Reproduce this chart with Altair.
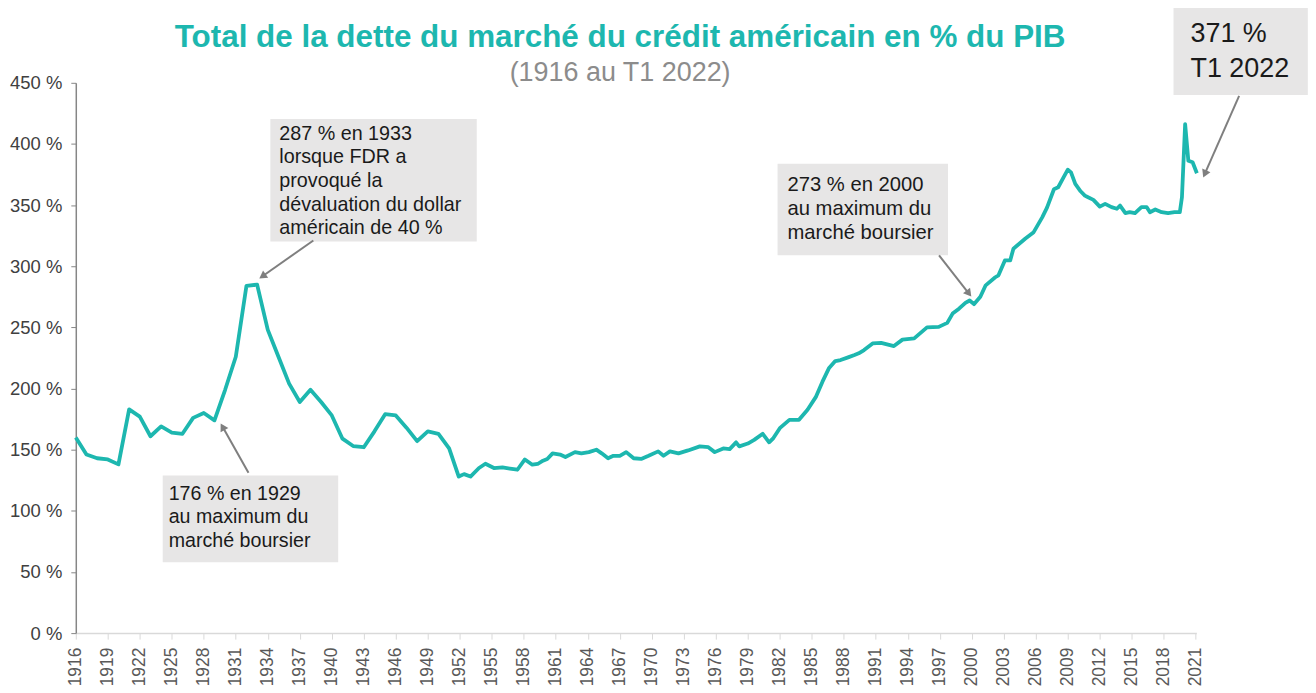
import math
import altair as alt
import pandas as pd

# ---------------- data ----------------
years = [
    1916.0, 1917.0, 1918.0, 1919.0, 1920.0, 1921.0, 1922.0, 1923.0, 1924.0, 1925.0,
    1926.0, 1927.0, 1928.0, 1929.0, 1930.0, 1931.0, 1932.0, 1933.0, 1934.0, 1935.0,
    1936.0, 1937.0, 1938.0, 1939.0, 1940.0, 1941.0, 1942.0, 1943.0, 1944.0, 1945.0,
    1946.0, 1947.0, 1948.0, 1949.0, 1950.0, 1951.0, 1951.9, 1952.4, 1953.0, 1953.8,
    1954.4, 1955.2, 1956.0, 1956.7, 1957.4, 1958.1, 1958.8, 1959.3, 1959.8, 1960.2,
    1960.7, 1961.4, 1961.9, 1962.8, 1963.4, 1964.1, 1964.8, 1965.3, 1965.9, 1966.4,
    1967.0, 1967.6, 1968.3, 1969.0, 1969.7, 1970.6, 1971.1, 1971.7, 1972.5, 1973.4,
    1974.5, 1975.3, 1975.9, 1976.7, 1977.3, 1977.9, 1978.2, 1979.0, 1979.6, 1980.4,
    1981.0, 1981.4, 1982.0, 1982.9, 1983.8, 1984.6, 1985.4, 1986.0, 1986.6, 1987.2,
    1987.7, 1988.4, 1989.0, 1989.4, 1989.9, 1990.7, 1991.5, 1992.7, 1993.5, 1994.6,
    1995.8, 1996.9, 1997.7, 1998.2, 1998.8, 1999.4, 1999.8, 2000.2, 2000.8, 2001.3,
    2002.2, 2002.5, 2003.1, 2003.6, 2003.9, 2005.0, 2005.8, 2006.6, 2007.05, 2007.7,
    2008.1, 2008.6, 2009.0, 2009.3, 2009.7, 2010.2, 2010.6, 2010.9, 2011.4, 2012.0,
    2012.5, 2013.1, 2013.6, 2013.9, 2014.4, 2014.8, 2015.3, 2015.9, 2016.4, 2016.7,
    2017.2, 2017.8, 2018.4, 2019.0, 2019.5, 2019.7, 2020.0, 2020.3, 2020.7, 2021.1,
]
values = [
    160, 146, 143, 142, 138, 183, 177, 161, 169, 164,
    163, 176, 180, 174, 199, 226, 284, 285, 248, 226,
    204, 189, 199, 189, 178, 159, 153, 152, 165, 179,
    178, 168, 157, 165, 163, 151, 128, 130, 128, 135,
    138.5, 135, 135.5, 134.5, 133.6, 142, 137.7, 138.3, 141, 142.4,
    147, 146, 144, 148, 147, 148, 150, 147, 143, 145,
    145, 148, 143, 142.4, 145, 148.6, 145, 148.6, 147, 149.4,
    152.7, 152, 148, 151, 150.5, 156, 152.7, 155, 158, 163,
    156, 159.5, 167.6, 174.4, 174.4, 182.6, 193.4, 205.6, 216.5, 222.5,
    223.3, 225.5, 227.4, 228.8, 231.5, 236.9, 237.4, 234.7, 240, 241,
    250, 250.4, 253.7, 261.3, 265.3, 270, 272, 269, 275, 284.4,
    291, 292.6, 304.8, 304.8, 314.3, 322.5, 327.9, 340, 348, 363,
    364.6, 372.7, 379, 376.8, 367.3, 361.3, 357.8, 356.4, 354.3, 348.8,
    351, 348.3, 347, 349.6, 343.4, 344.2, 343.4, 348.3, 348.3, 344.2,
    346.4, 344.2, 343.4, 344.2, 344.2, 356.4, 416.2, 386.3, 385, 376,
]

tick_years = list(range(1916, 2022, 3))
tick_values = list(range(0, 451, 50))

title_text = "Total de la dette du marché du crédit américain en % du PIB"
subtitle_text = "(1916 au T1 2022)"

# annotation boxes (data units: year, %)
box_x1 = [1934.24, 1924.15, 1981.79, 2018.91]
box_x2 = [1953.59, 1940.60, 1997.77, 2031.50]
box_y1 = [420.5, 128.8, 383.9, 511.8]
box_y2 = [320.3, 57.9, 308.9, 440.1]

# annotation texts (x = left edge, y = centre of first line)
text_x = [1935.08, 1924.71, 1982.72, 2020.50]
text_y = [408.3, 114.1, 366.7, 489.8]
texts = [
    "287 % en 1933\nlorsque FDR a\nprovoqué la\ndévaluation du dollar\naméricain de 40 %",
    "176 % en 1929\nau maximum du\nmarché boursier",
    "273 % en 2000\nau maximum du\nmarché boursier",
    "371 %\nT1 2022",
]

# arrows (start -> tip), data units
arr_x1 = [1938.27, 1932.19, 1996.93, 2025.06]
arr_y1 = [321.1, 131.2, 308.9, 439.3]
arr_x2 = [1933.50, 1929.76, 1999.73, 2021.84]
arr_y2 = [291.8, 168.7, 277.7, 375.5]

# ---------------- styling / layout ----------------
TEAL = "#1DB7AF"
GREY_ARROW = "#7F7F7F"
BOX_FILL = "#E7E6E6"
FONT = "Liberation Sans"

X_DOMAIN = [1916, 2021.05]
Y_DOMAIN = [0, 450]
PLOT_W = 1124
PLOT_H = 552
XS = PLOT_W / (X_DOMAIN[1] - X_DOMAIN[0])
YS = PLOT_H / (Y_DOMAIN[1] - Y_DOMAIN[0])

df = pd.DataFrame({"year": years, "value": values})
boxes = pd.DataFrame({"year": box_x1, "x2": box_x2, "value": box_y1, "y2": box_y2})
labels = pd.DataFrame({"year": text_x, "value": text_y, "t": texts, "k": [0, 1, 2, 3]})
angles = []
for a, b, c, d in zip(arr_x1, arr_y1, arr_x2, arr_y2):
    dx = (c - a) * XS
    dy = -(d - b) * YS
    angles.append(math.degrees(math.atan2(dx, -dy)) % 360)
arrows = pd.DataFrame({"year": arr_x1, "value": arr_y1, "x2": arr_x2, "y2": arr_y2, "ang": angles})
heads = pd.DataFrame({"year": arr_x2, "value": arr_y2, "ang": angles})
titles = pd.DataFrame({"t": [title_text, subtitle_text], "k": [0, 1]})

xs = alt.Scale(domain=X_DOMAIN, nice=False, zero=False)
ys = alt.Scale(domain=Y_DOMAIN, nice=False, zero=True)

x_axis = alt.Axis(values=tick_years, format="d", labelAngle=270, labelFontSize=17.5,
                  labelColor="#595959", labelFont=FONT, tickColor="#D9D9D9", tickSize=6,
                  domainColor="#D9D9D9", domainWidth=1.5, labelPadding=8, grid=False,
                  labelOverlap=False, labelFlush=False, title=None)
y_axis = alt.Axis(values=tick_values, labelExpr="datum.value + ' %'", labelFontSize=18.5,
                  labelColor="#404040", labelFont=FONT, tickColor="#868686", tickSize=5,
                  domainColor="#868686", domainWidth=1.5, labelPadding=9, grid=False, title=None)


def X():
    return alt.X("year:Q", scale=xs, axis=x_axis, title=None)


def Y():
    return alt.Y("value:Q", scale=ys, axis=y_axis, title=None)


line = alt.Chart(df).mark_line(color=TEAL, strokeWidth=3.8, strokeJoin="round").encode(x=X(), y=Y())

rects = alt.Chart(boxes).mark_rect(fill=BOX_FILL).encode(x=X(), x2="x2", y=Y(), y2="y2")


def text_layer(k, size, lh):
    return alt.Chart(labels).transform_filter(alt.datum.k == k).mark_text(
        align="left", baseline="middle", font=FONT, fontSize=size, lineBreak="\n",
        lineHeight=lh, color="#1A1A1A",
    ).encode(x=X(), y=Y(), text="t:N")


t1 = text_layer(0, 19.8, 23.7)
t2 = text_layer(1, 19.7, 24)
t3 = text_layer(2, 20.3, 24)
t4 = text_layer(3, 27, 35)

arrow_lines = alt.Chart(arrows).mark_rule(color=GREY_ARROW, strokeWidth=2).encode(
    x=X(), x2="x2", y=Y(), y2="y2")
arrow_heads = alt.Chart(heads).mark_point(shape="triangle-up", filled=True, size=80,
                                          color=GREY_ARROW, opacity=1).encode(
    x=X(), y=Y(), angle=alt.Angle("ang:Q", scale=None))

title_mark = alt.Chart(titles).transform_filter(alt.datum.k == 0).mark_text(
    align="center", baseline="alphabetic", font=FONT, fontSize=31.5, fontWeight="bold", color=TEAL,
).encode(x=alt.value(546), y=alt.value(-36), text="t:N")
subtitle_mark = alt.Chart(titles).transform_filter(alt.datum.k == 1).mark_text(
    align="center", baseline="alphabetic", font=FONT, fontSize=27, color="#8C8C8C",
).encode(x=alt.value(546), y=alt.value(-2), text="t:N")

chart = alt.layer(rects, t1, t2, t3, t4, line, arrow_lines, arrow_heads,
                  title_mark, subtitle_mark).properties(
    width=PLOT_W,
    height=PLOT_H,
    background="white",
    autosize=alt.AutoSizeParams(type="none"),
    padding={"left": 68, "top": 74, "right": 112, "bottom": 52},
).configure_view(stroke="transparent", strokeWidth=0)

chart.save("out.html", embed_options={"renderer": "svg", "actions": False})
